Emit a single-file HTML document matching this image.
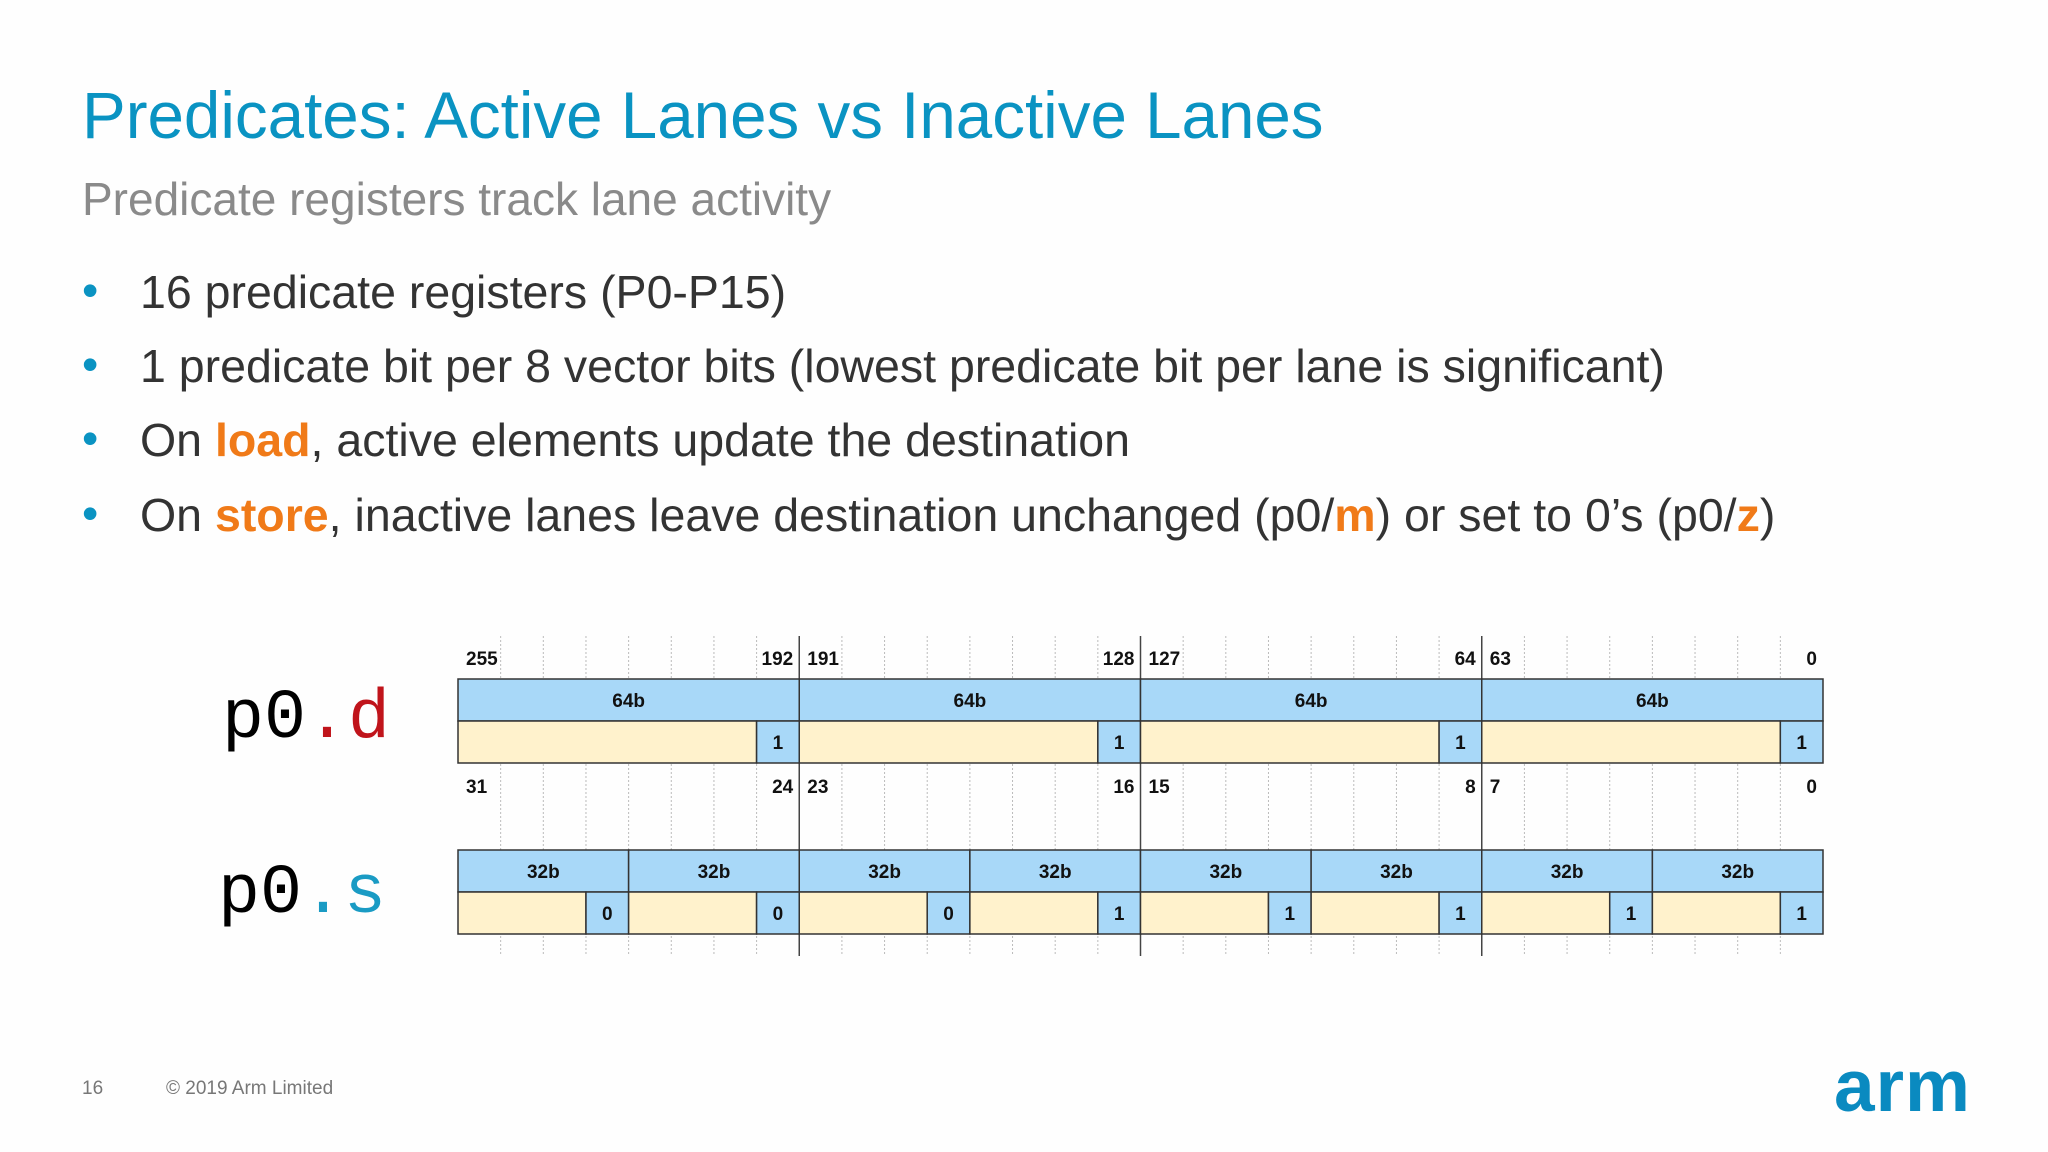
<!DOCTYPE html>
<html><head><meta charset="utf-8"><style>
html,body{margin:0;padding:0;}
body{width:2048px;height:1152px;background:#fefefe;position:relative;overflow:hidden;font-family:"Liberation Sans",sans-serif;}
.abs{position:absolute;white-space:nowrap;}
#title{left:82px;top:78px;font-size:65.5px;color:#0a93c2;}
#subtitle{left:82px;top:172px;font-size:46px;color:#8a8a8a;}
.bullet{left:82px;font-size:46.5px;color:#333;}
.bullet .dot{position:absolute;left:0;top:-2px;color:#0a93c2;}
.bullet .txt{position:absolute;left:58px;}
.or{color:#f07a18;font-weight:bold;}
.reg{font-family:"Liberation Mono",monospace;font-size:70px;}
#footer-num,#footer-copy{top:1078px;font-size:19px;color:#777;}
#logo{left:1834px;top:1045px;font-size:73px;font-weight:bold;color:#0a8ac0;letter-spacing:1px;}
</style></head><body>
<div class="abs" id="title">Predicates: Active Lanes vs Inactive Lanes</div>
<div class="abs" id="subtitle">Predicate registers track lane activity</div>
<div class="abs bullet" style="top:265px"><span class="dot">•</span><span class="txt">16 predicate registers (P0-P15)</span></div>
<div class="abs bullet" style="top:339px"><span class="dot">•</span><span class="txt">1 predicate bit per 8 vector bits (lowest predicate bit per lane is significant)</span></div>
<div class="abs bullet" style="top:413px"><span class="dot">•</span><span class="txt">On <span class="or">load</span>, active elements update the destination</span></div>
<div class="abs bullet" style="top:488px"><span class="dot">•</span><span class="txt">On <span class="or">store</span>, inactive lanes leave destination unchanged (p0/<span class="or">m</span>) or set to 0’s (p0/<span class="or">z</span>)</span></div>
<div class="abs reg" style="left:222px;top:680px">p0<span style="color:#c0141b">.d</span></div>
<div class="abs reg" style="left:218px;top:855px">p0<span style="color:#1a9bc4">.s</span></div>
<svg class="abs" id="diagram" style="left:0;top:0" width="2048" height="1152"></svg>
<div class="abs" id="footer-num" style="left:82px">16</div>
<div class="abs" id="footer-copy" style="left:166px">© 2019 Arm Limited</div>
<div class="abs" id="logo">arm</div>
<script>
const dLabels=["255","192","191","128","127","64","63","0"];
const sLabels=["31","24","23","16","15","8","7","0"];
const dValues=["1","1","1","1"];
const sValues=["0","0","0","1","1","1","1","1"];
const NS="http://www.w3.org/2000/svg";
const svg=document.getElementById('diagram');
const X0=458,X1=1823,COLS=32,cw=(X1-X0)/COLS;
const col=c=>X0+c*cw;
function el(t,a){const e=document.createElementNS(NS,t);for(const k in a)e.setAttribute(k,a[k]);svg.appendChild(e);return e;}
function txt(x,y,s,anchor){const t=el('text',{x:x,y:y,'font-family':'Liberation Sans, sans-serif','font-weight':'bold','font-size':19,'text-anchor':anchor||'middle',fill:'#111'});t.textContent=s;return t;}
for(let c=1;c<COLS;c++){
  const major=c%8===0;
  const g=el('line',{x1:col(c),x2:col(c),y1:636,y2:956,stroke:major?'#444':'#bbb','stroke-width':major?1.5:1,'stroke-dasharray':major?'none':'2,2'});
  
  
}
function row(y0,h,n,vals,name){
  const span=COLS/n;
  for(let i=0;i<n;i++){
    const a=col(i*span),b=col((i+1)*span);
    const hdr=el('rect',{x:a,y:y0,width:b-a,height:h,fill:'#a8d8f8',stroke:'#333','stroke-width':1.5});
    
    
    txt((a+b)/2,y0+h/2+7,n===4?'64b':'32b');
    const yl=el('rect',{x:a,y:y0+h,width:b-a-cw,height:h,fill:'#fff2cc',stroke:'#333','stroke-width':1.5});
    
    
    const pb=el('rect',{x:b-cw,y:y0+h,width:cw,height:h,fill:'#a8d8f8',stroke:'#333','stroke-width':1.5});
    
    
    txt(b-cw/2,y0+h*1.5+7,vals[i]);
  }
}
row(679,42,4,dValues,'d');
row(850,42,8,sValues,'s');
function labels(arr,y){
  for(let i=0;i<4;i++){
    const a=col(i*8),b=col((i+1)*8);
    const l=txt(a+8,y,arr[2*i],'start');
    
    
    const r=txt(b-6,y,arr[2*i+1],'end');
    
    
  }
}
labels(dLabels,665);
labels(sLabels,793);
</script>
</body></html>
